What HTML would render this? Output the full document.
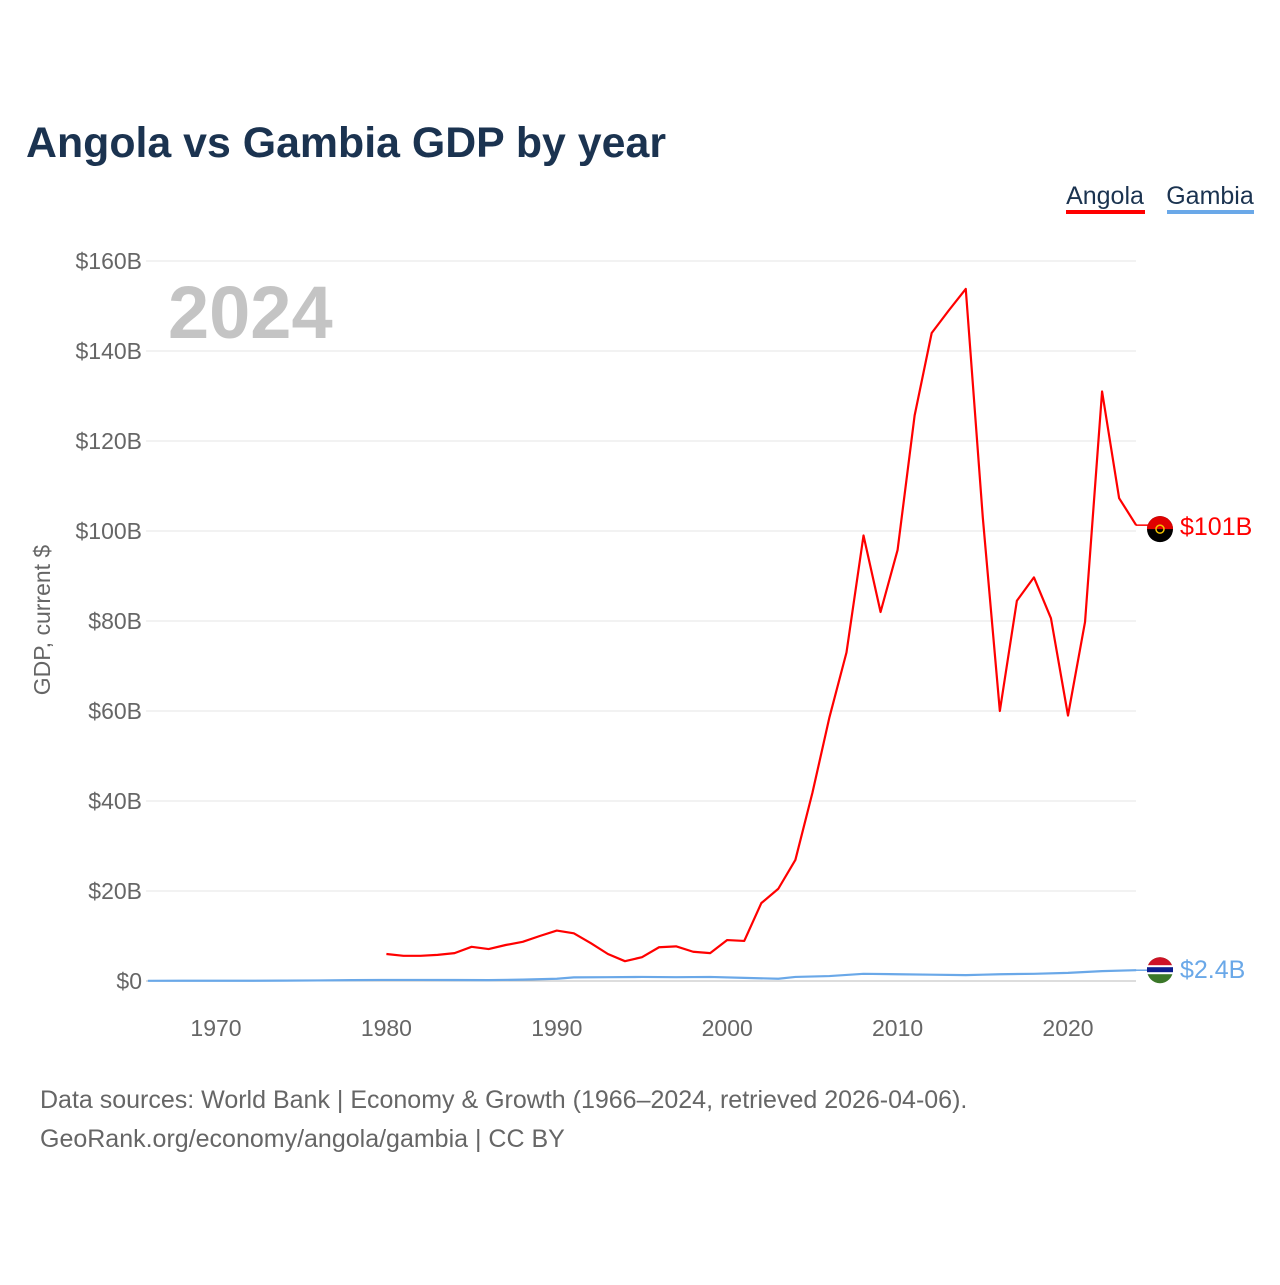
<!DOCTYPE html>
<html><head><meta charset="utf-8">
<style>
body{margin:0;background:#fff;font-family:"Liberation Sans",sans-serif;}
#wrap{position:relative;width:1280px;height:1280px;}
</style></head><body>
<div id="wrap">
<svg id="chart" width="1280" height="1280">
<text x="26" y="157" font-size="43" font-weight="bold" fill="#1b3350" textLength="640" lengthAdjust="spacingAndGlyphs">Angola vs Gambia GDP by year</text>
<g>
<text x="1105" y="204" font-size="25" fill="#1b3350" text-anchor="middle">Angola</text>
<rect x="1066" y="210" width="79" height="4" fill="#ff0000"/>
<text x="1210" y="204" font-size="25" fill="#1b3350" text-anchor="middle">Gambia</text>
<rect x="1167" y="210" width="87" height="4" fill="#6aa8e8"/>
</g>
<text x="168" y="338" font-size="74" font-weight="bold" fill="#c4c4c4">2024</text>
<text transform="translate(50,620) rotate(-90)" font-size="23" fill="#666" text-anchor="middle">GDP, current $</text>
<g id="grid"></g><g id="xt"></g><g id="series"></g>
<text x="40" y="1108" font-size="25" fill="#666">Data sources: World Bank | Economy &amp; Growth (1966–2024, retrieved 2026-04-06).</text>
<text x="40" y="1147" font-size="25" fill="#666">GeoRank.org/economy/angola/gambia | CC BY</text>
</svg>
</div>
<script>
const yTicks=[0,20,40,60,80,100,120,140,160];
const yTickLabels=["$0","$20B","$40B","$60B","$80B","$100B","$120B","$140B","$160B"];
const xTicks=[1970,1980,1990,2000,2010,2020];
const angolaYears=[1980,1981,1982,1983,1984,1985,1986,1987,1988,1989,1990,1991,1992,1993,1994,1995,1996,1997,1998,1999,2000,2001,2002,2003,2004,2005,2006,2007,2008,2009,2010,2011,2012,2013,2014,2015,2016,2017,2018,2019,2020,2021,2022,2023,2024];
const angolaValues=[6.0,5.6,5.6,5.8,6.2,7.6,7.1,8.0,8.7,10.0,11.2,10.6,8.4,6.0,4.4,5.3,7.5,7.7,6.5,6.2,9.1,8.9,17.3,20.5,26.9,41.8,58.6,73,99,82,95.8,125.7,144,149,153.8,103,60,84.5,89.7,80.6,59,79.8,131,107.3,101.3];
const gambiaYears=[1966,1968,1970,1972,1974,1976,1978,1980,1982,1984,1986,1988,1990,1991,1993,1995,1997,1999,2001,2003,2004,2006,2008,2010,2012,2014,2015,2016,2018,2020,2022,2024];
const gambiaValues=[0.04,0.05,0.05,0.06,0.08,0.12,0.2,0.24,0.24,0.22,0.2,0.3,0.5,0.8,0.85,0.9,0.85,0.9,0.7,0.5,0.9,1.1,1.6,1.5,1.4,1.3,1.4,1.5,1.6,1.8,2.2,2.4];
const X=y=>216+(y-1970)*17.04;
const Y=v=>981-v*4.5;
const ns="http://www.w3.org/2000/svg";
function mk(t,a,p){const e=document.createElementNS(ns,t);for(const k in a)e.setAttribute(k,a[k]);p.appendChild(e);return e;}
const grid=document.getElementById('grid');
yTicks.forEach((v,i)=>{
 const l=mk('line',{x1:146,x2:1136,y1:Y(v),y2:Y(v),stroke:v===0?'#bbb':'#e6e6e6','stroke-width':1},grid);
 
 
 const t=mk('text',{x:142,y:Y(v)+8,'font-size':23,fill:'#666','text-anchor':'end'},grid);
 t.textContent=yTickLabels[i];
 
 
});
const xt=document.getElementById('xt');
xTicks.forEach(yr=>{
 const t=mk('text',{x:X(yr),y:1036,'font-size':23,fill:'#666','text-anchor':'middle'},xt);
 t.textContent=yr;
 
 
});
const s=document.getElementById('series');
function line(xs,vs,c,name){
 const p=mk('polyline',{points:xs.map((y,i)=>X(y)+','+Y(vs[i])).join(' '),fill:'none',stroke:c,'stroke-width':2.2,'stroke-linejoin':'round'},s);
 
 
}
line(angolaYears,angolaValues,'#ff0000','angola-line');
line(gambiaYears,gambiaValues,'#6aa8e8','gambia-line');
const aLast=angolaValues[angolaValues.length-1], gLast=gambiaValues[gambiaValues.length-1];
const ay=Y(aLast), gy=Y(gLast);
mk('line',{x1:1136,x2:1148,y1:ay,y2:ay,stroke:'#ff0000','stroke-width':1.5},s);
mk('line',{x1:1136,x2:1148,y1:gy,y2:gy,stroke:'#6aa8e8','stroke-width':1.5},s);
const fa=mk('g',{},s);


mk('circle',{cx:1160,cy:ay+4,r:13,fill:'#000'},fa);
mk('path',{d:`M1147 ${ay+4} A13 13 0 0 1 1173 ${ay+4} Z`,fill:'#e00000'},fa);
mk('circle',{cx:1160,cy:ay+4,r:4,fill:'none',stroke:'#f5c400','stroke-width':1.5},fa);
const fg=mk('g',{},s);


mk('circle',{cx:1160,cy:gy,r:13,fill:'#3a7728'},fg);
mk('path',{d:`M1147 ${gy} A13 13 0 0 1 1173 ${gy} Z`,fill:'#ce1126'},fg);
mk('rect',{x:1147,y:gy-5,width:26,height:9,fill:'#fff'},fg);
mk('rect',{x:1147,y:gy-3,width:26,height:5,fill:'#0c1c8c'},fg);
const la=mk('text',{x:1180,y:ay+10,'font-size':25,fill:'#ff0000'},s);
la.textContent='$'+Math.round(aLast)+'B';


const lg=mk('text',{x:1180,y:gy+8,'font-size':25,fill:'#6aa8e8'},s);
lg.textContent='$'+gLast.toFixed(1)+'B';


</script>
</body></html>
